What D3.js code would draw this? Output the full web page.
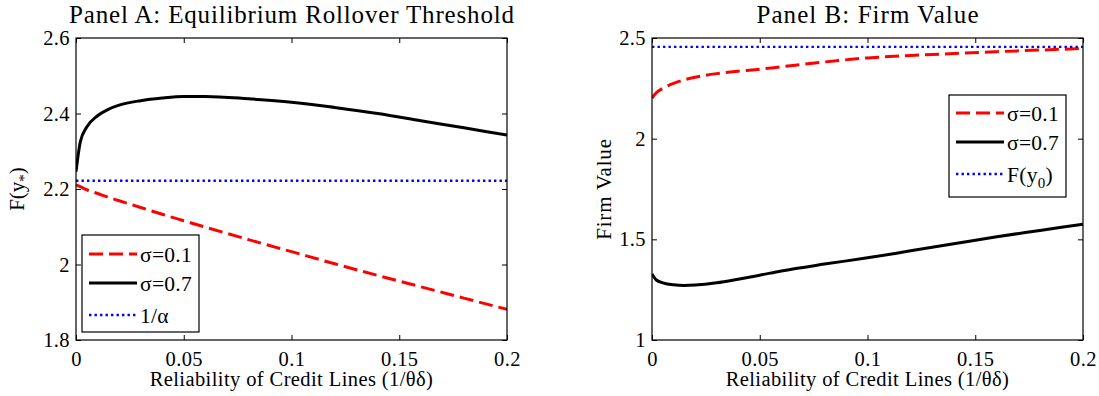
<!DOCTYPE html>
<html>
<head>
<meta charset="utf-8">
<script src="https://cdn.jsdelivr.net/npm/d3@7"></script>
<style>
  body { margin: 0; background: #fff; }
  svg { display: block; }
  text { font-family: "Liberation Serif", "Times New Roman", serif; fill: #000; }
</style>
</head>
<body>
<script>
// x values (reliability of credit lines, 1/theta*delta)
var xVals = [0, 0.002, 0.005, 0.01, 0.015, 0.02, 0.03, 0.04, 0.05, 0.06, 0.08, 0.1, 0.12, 0.14, 0.16, 0.18, 0.2];

// Panel A: equilibrium rollover threshold F(y*)
var aSigma01 = [2.211, 2.206, 2.198, 2.188, 2.178, 2.169, 2.151, 2.133, 2.116, 2.099, 2.066, 2.034, 2.002, 1.971, 1.941, 1.911, 1.881];
var aSigma07 = [2.246, 2.325, 2.364, 2.394, 2.411, 2.422, 2.434, 2.441, 2.445, 2.445, 2.439, 2.430, 2.416, 2.400, 2.381, 2.362, 2.343];
var aInvAlpha = 2.222;

// Panel B: firm value
var bSigma01 = [2.202, 2.228, 2.250, 2.275, 2.292, 2.305, 2.323, 2.335, 2.345, 2.357, 2.381, 2.401, 2.413, 2.423, 2.432, 2.440, 2.448];
var bSigma07 = [1.328, 1.298, 1.284, 1.274, 1.271, 1.273, 1.284, 1.302, 1.322, 1.343, 1.377, 1.408, 1.443, 1.478, 1.513, 1.544, 1.575];
var bFy0 = 2.456;

// ticks
var xTicks = [0, 0.05, 0.1, 0.15, 0.2];
var aYTicks = [1.8, 2, 2.2, 2.4, 2.6];
var bYTicks = [1, 1.5, 2, 2.5];

var W = 1099, H = 396;
var svg = d3.select("body").append("svg")
    .attr("width", W)
    .attr("height", H);

var plotTop = 38, plotBottom = 340;
var serif = "'Liberation Serif', 'Times New Roman', serif";

function drawPanel(opts) {
  var x = d3.scaleLinear().domain([0, 0.2]).range([opts.left, opts.left + 431]);
  var y = d3.scaleLinear().domain(opts.yDomain).range([plotBottom, plotTop]);
  var g = svg.append("g");

  // clip for curves
  var clipId = "clip" + opts.id;
  svg.append("clipPath").attr("id", clipId)
    .append("rect")
      .attr("x", x.range()[0]).attr("y", plotTop)
      .attr("width", 431).attr("height", plotBottom - plotTop);

  var curves = g.append("g").attr("clip-path", "url(#" + clipId + ")");

  var line = d3.line()
      .x(function(d) { return x(d[0]); })
      .y(function(d) { return y(d[1]); })
      .curve(d3.curveMonotoneX);

  opts.series.forEach(function(s) {
    var pts;
    if (Array.isArray(s.values)) {
      pts = xVals.map(function(v, i) { return [v, s.values[i]]; });
    } else {
      pts = [[0, s.values], [0.2, s.values]];
    }
    curves.append("path")
        .datum(pts)
        .attr("d", line)
        .attr("fill", "none")
        .attr("stroke", s.color)
        .attr("stroke-width", s.width)
        .attr("stroke-dasharray", s.dash);
  });

  // axes with inward ticks on all four sides
  var fmt = function(d) { return d3.format("")(+d.toFixed(2)); };
  var axes = g.append("g");
  axes.append("g")
      .attr("transform", "translate(0," + plotBottom + ")")
      .call(d3.axisBottom(x).tickValues(xTicks).tickSize(-5).tickPadding(11).tickFormat(fmt));
  axes.append("g")
      .attr("transform", "translate(0," + plotTop + ")")
      .call(d3.axisTop(x).tickValues(xTicks).tickSize(-5).tickFormat(""));
  axes.append("g")
      .attr("transform", "translate(" + x.range()[0] + ",0)")
      .call(d3.axisLeft(y).tickValues(opts.yTicks).tickSize(-5).tickPadding(6).tickFormat(fmt));
  axes.append("g")
      .attr("transform", "translate(" + x.range()[1] + ",0)")
      .call(d3.axisRight(y).tickValues(opts.yTicks).tickSize(-5).tickFormat(""));

  axes.selectAll("g").attr("font-family", serif).attr("font-size", 20);
  axes.selectAll(".domain").remove();
  axes.selectAll(".tick line").attr("stroke", "#000").attr("stroke-width", 1);
  axes.selectAll(".tick text")
      .style("font-family", serif)
      .style("font-size", "20.5px")
      .style("letter-spacing", "0.4px")
      .attr("fill", "#000");

  g.append("rect")
      .attr("x", x.range()[0]).attr("y", plotTop)
      .attr("width", 431).attr("height", plotBottom - plotTop)
      .attr("fill", "none").attr("stroke", "#000").attr("stroke-width", 1.2);

  // title
  var cx = opts.left + 215.5;
  g.append("text")
      .attr("x", cx).attr("y", 23)
      .attr("text-anchor", "middle")
      .attr("textLength", opts.titleLen)
      .attr("lengthAdjust", "spacing")
      .style("font-size", "25px")
      .text(opts.title);

  // x label
  g.append("text")
      .attr("x", cx).attr("y", 386)
      .attr("text-anchor", "middle")
      .style("font-size", "20.5px")
      .style("letter-spacing", "0.4px")
      .text("Reliability of Credit Lines (1/θδ)");

  // y label
  var yl = g.append("text")
      .attr("transform", "translate(" + opts.ylabelX + "," + ((plotTop + plotBottom) / 2) + ") rotate(-90)")
      .attr("text-anchor", "middle")
      .style("font-size", "21px");
  opts.ylabel(yl);

  // legend
  var lg = g.append("g").attr("transform", "translate(" + opts.legend.x + "," + opts.legend.y + ")");
  lg.append("rect")
      .attr("width", 117).attr("height", opts.legend.h)
      .attr("fill", "#fff").attr("stroke", "#000").attr("stroke-width", 1.2);
  opts.series.forEach(function(s, i) {
    var ly = opts.legend.rows[i];
    lg.append("line")
        .attr("x1", 7).attr("x2", 55)
        .attr("y1", ly).attr("y2", ly)
        .attr("stroke", s.color)
        .attr("stroke-width", s.width)
        .attr("stroke-dasharray", s.dash);
    var t = lg.append("text")
        .attr("x", 58).attr("y", ly + 7.5)
        .style("font-family", serif)
        .style("font-size", "21.5px")
        .style("letter-spacing", "0.3px");
    s.label(t);
  });
}

var red = { color: "#ff0000", width: 3, dash: "14 6" };
var blk = { color: "#000000", width: 3, dash: null };
var blu = { color: "#0000ff", width: 2.4, dash: "2.4 3.1" };

drawPanel({
  id: "A",
  left: 76,
  yDomain: [1.8, 2.6],
  yTicks: aYTicks,
  title: "Panel A: Equilibrium Rollover Threshold",
  titleLen: 445,
  ylabelX: 24,
  ylabel: function(t) {
    t.append("tspan").text("F(y");
    t.append("tspan").attr("dy", 5).style("font-size", "15px").text("*");
    t.append("tspan").attr("dy", -5).text(")");
  },
  legend: { x: 82, y: 235, h: 97, rows: [19, 48, 80] },
  series: [
    Object.assign({ values: aSigma01, label: function(t) { t.text("σ=0.1"); } }, red),
    Object.assign({ values: aSigma07, label: function(t) { t.text("σ=0.7"); } }, blk),
    Object.assign({ values: aInvAlpha, label: function(t) { t.text("1/α"); } }, blu)
  ]
});

drawPanel({
  id: "B",
  left: 652,
  yDomain: [1, 2.5],
  yTicks: bYTicks,
  title: "Panel B: Firm Value",
  titleLen: 222,
  ylabelX: 611,
  ylabel: function(t) {
    t.style("letter-spacing", "0.8px").text("Firm Value");
  },
  legend: { x: 949, y: 95, h: 102, rows: [18, 47, 79] },
  series: [
    Object.assign({ values: bSigma01, label: function(t) { t.text("σ=0.1"); } }, red),
    Object.assign({ values: bSigma07, label: function(t) { t.text("σ=0.7"); } }, blk),
    Object.assign({ values: bFy0, label: function(t) {
      t.append("tspan").text("F(y");
      t.append("tspan").attr("dy", 6).style("font-size", "15px").text("0");
      t.append("tspan").attr("dy", -6).text(")");
    } }, blu)
  ]
});
</script>
</body>
</html>
